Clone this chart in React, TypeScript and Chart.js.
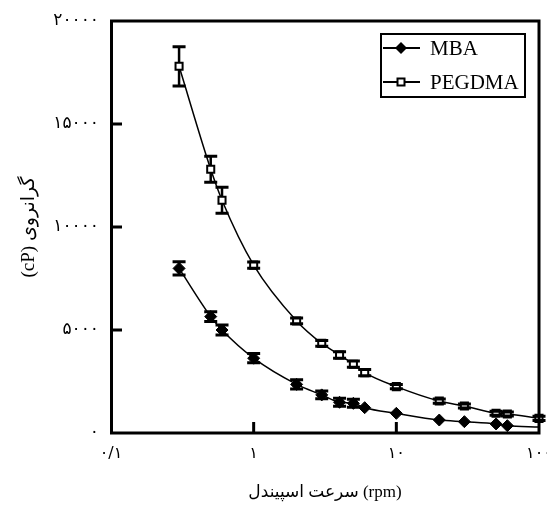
import React, { useEffect, useRef } from 'react';
import { Chart, registerables } from 'chart.js';

Chart.register(...registerables);

// ---- data ----
const pegSpeeds = [0.3, 0.5, 0.6, 1, 2, 3, 4, 5, 6, 10, 20, 30, 50, 60, 100];
const pegViscosity = [17800, 12800, 11300, 8150, 5440, 4350, 3790, 3340, 2930, 2250, 1550, 1310, 960, 920, 710];
const pegError = [950, 630, 630, 150, 140, 140, 160, 150, 150, 100, 100, 100, 100, 100, 100];

const mbaSpeeds = [0.3, 0.5, 0.6, 1, 2, 3, 4, 5, 6, 10, 20, 30, 50, 60];
const mbaViscosity = [7990, 5650, 5000, 3630, 2360, 1850, 1490, 1440, 1230, 955, 630, 550, 440, 355];
const mbaError = [320, 240, 240, 225, 225, 185, 195, 195, 0, 0, 0, 0, 0, 0];
// fitted MBA curve continues to the right edge without a marker
const mbaCurveTailSpeeds = [100];
const mbaCurveTailViscosity = [290];

const seriesNames = ['MBA', 'PEGDMA'];
const xTickValues = [0.1, 1, 10, 100];
const xTickLabels = ['۰/۱', '۱', '۱۰', '۱۰۰'];
const yTickLabels = ['۰', '۵۰۰۰', '۱۰۰۰۰', '۱۵۰۰۰', '۲۰۰۰۰'];
const xTitle = 'سرعت اسپیندل (rpm)';
const yTitle = '\u202Bگرانروی (cP)\u202C';

const serif = "'Liberation Serif', 'DejaVu Sans', serif";
const persian = "'DejaVu Sans', sans-serif";

const toPoints = (xs: number[], ys: number[]) => xs.map((x, i) => ({ x, y: ys[i] }));

const errorSets = [
  { s: mbaSpeeds, v: mbaViscosity, e: mbaError },
  { s: pegSpeeds, v: pegViscosity, e: pegError },
];

function drawErrors(chart: any, part: 'bar' | 'cap') {
  const { ctx } = chart;
  const xs = chart.scales.x;
  const ys = chart.scales.y;
  ctx.save();
  ctx.strokeStyle = '#000';
  errorSets.forEach(({ s, v, e }) => {
    s.forEach((sp, i) => {
      if (!e[i]) return;
      const px = xs.getPixelForValue(sp);
      const top = ys.getPixelForValue(v[i] + e[i]);
      const bot = ys.getPixelForValue(v[i] - e[i]);
      ctx.beginPath();
      if (part === 'bar') {
        ctx.lineWidth = 2.5;
        ctx.moveTo(px, top);
        ctx.lineTo(px, bot);
      } else {
        ctx.lineWidth = 3;
        ctx.moveTo(px - 6.5, top);
        ctx.lineTo(px + 6.5, top);
        ctx.moveTo(px - 6.5, bot);
        ctx.lineTo(px + 6.5, bot);
      }
      ctx.stroke();
    });
  });
  ctx.restore();
}

const extrasPlugin = {
  id: 'extras',
  beforeDatasetsDraw(chart: any) {
    drawErrors(chart, 'bar');
  },
  afterDatasetsDraw(chart: any) {
    drawErrors(chart, 'cap');
  },
  afterDraw(chart: any) {
    const { ctx, chartArea: a } = chart;
    const xs = chart.scales.x;
    const ys = chart.scales.y;
    ctx.save();
    ctx.strokeStyle = '#000';
    ctx.lineWidth = 3;
    ctx.strokeRect(a.left + 0.5, a.top, a.right - a.left - 0.5, a.bottom - a.top);
    // inner ticks
    ctx.beginPath();
    ys.ticks.forEach((t: any) => {
      if (t.value <= ys.min || t.value >= ys.max) return;
      const py = ys.getPixelForValue(t.value);
      ctx.moveTo(a.left, py);
      ctx.lineTo(a.left + 11, py);
    });
    xs.ticks.forEach((t: any) => {
      if (t.value <= xs.min || t.value >= xs.max) return;
      const px = xs.getPixelForValue(t.value);
      ctx.moveTo(px, a.bottom);
      ctx.lineTo(px, a.bottom - 11);
    });
    ctx.stroke();

    // legend box
    const bx = 381, by = 34, bw = 144, bh = 63;
    ctx.fillStyle = '#fff';
    ctx.fillRect(bx, by, bw, bh);
    ctx.lineWidth = 2;
    ctx.strokeRect(bx, by, bw, bh);
    const rows = [48, 82];
    rows.forEach((ry, i) => {
      ctx.lineWidth = 2;
      ctx.beginPath();
      ctx.moveTo(383, ry);
      ctx.lineTo(420, ry);
      ctx.stroke();
      if (i === 0) {
        ctx.fillStyle = '#000';
        ctx.beginPath();
        ctx.moveTo(395, ry);
        ctx.lineTo(401, ry - 6);
        ctx.lineTo(407, ry);
        ctx.lineTo(401, ry + 6);
        ctx.closePath();
        ctx.fill();
      } else {
        ctx.fillStyle = '#fff';
        ctx.fillRect(397.5, ry - 3.5, 7, 7);
        ctx.lineWidth = 2;
        ctx.strokeRect(397.5, ry - 3.5, 7, 7);
      }
      ctx.fillStyle = '#000';
      ctx.font = `21px ${serif}`;
      ctx.textBaseline = 'middle';
      ctx.textAlign = 'left';
      ctx.fillText(seriesNames[i], 430, ry + 1);
    });
    ctx.restore();
  },
};

export default function App() {
  const ref = useRef<HTMLCanvasElement>(null);
  useEffect(() => {
    if (!ref.current) return;
    const chart = new Chart(ref.current, {
      type: 'line',
      data: {
        datasets: [
          {
            label: seriesNames[0],
            data: toPoints(mbaSpeeds, mbaViscosity),
            showLine: false,
            pointStyle: 'rectRot',
            pointRadius: 6,
            backgroundColor: '#000',
            borderColor: '#000',
            borderWidth: 1,
            order: 0,
            clip: false,
          } as any,
          {
            label: seriesNames[1],
            data: toPoints(pegSpeeds, pegViscosity),
            showLine: false,
            pointStyle: 'rect',
            pointRadius: 5,
            backgroundColor: '#fff',
            borderColor: '#000',
            borderWidth: 2,
            order: 0,
            clip: false,
          } as any,
          {
            label: 'MBA fit',
            data: toPoints(mbaSpeeds.concat(mbaCurveTailSpeeds), mbaViscosity.concat(mbaCurveTailViscosity)),
            pointRadius: 0,
            borderColor: '#000',
            borderWidth: 1.5,
            cubicInterpolationMode: 'monotone',
            fill: false,
            order: 1,
          } as any,
          {
            label: 'PEGDMA fit',
            data: toPoints(pegSpeeds, pegViscosity),
            pointRadius: 0,
            borderColor: '#000',
            borderWidth: 1.5,
            cubicInterpolationMode: 'monotone',
            fill: false,
            order: 1,
          } as any,
        ],
      },
      options: {
        responsive: false,
        animation: false,
        layout: { padding: { top: 21, right: 8, left: 0, bottom: 0 } },
        plugins: { legend: { display: false }, tooltip: { enabled: false } },
        scales: {
          x: {
            type: 'logarithmic',
            min: 0.1,
            max: 100,
            grid: { display: false, drawTicks: false },
            border: { display: false },
            afterBuildTicks: (s: any) => {
              s.ticks = xTickValues.map((value) => ({ value }));
            },
            afterFit: (s: any) => {
              s.height = 75;
              s.paddingLeft = 0;
              s.paddingRight = 0;
            },
            ticks: {
              autoSkip: false,
              maxRotation: 0,
              padding: 11,
              color: '#000',
              font: { family: persian, size: 16 },
              callback: (_v: any, i: number) => xTickLabels[i],
            },
            title: {
              display: true,
              text: xTitle,
              color: '#000',
              font: { family: serif, size: 17 },
              padding: { top: 0, bottom: 5 },
            },
          } as any,
          y: {
            type: 'linear',
            min: 0,
            max: 20000,
            grid: { display: false, drawTicks: false },
            border: { display: false },
            afterFit: (s: any) => {
              s.width = 111;
              s.paddingTop = 0;
              s.paddingBottom = 0;
            },
            ticks: {
              stepSize: 5000,
              padding: 12,
              color: '#000',
              font: { family: persian, size: 17 },
              callback: (_v: any, i: number) => yTickLabels[i],
            },
            title: {
              display: true,
              text: yTitle,
              color: '#000',
              font: { family: serif, size: 19 },
              padding: { top: 18, bottom: 0 },
            },
          } as any,
        },
      },
      plugins: [extrasPlugin],
    });
    return () => chart.destroy();
  }, []);
  return (
    <div style={{ position: 'absolute', left: 0, top: 0, width: 547, height: 508, background: '#fff' }}>
      <canvas ref={ref} width={547} height={508} style={{ display: 'block' }} />
    </div>
  );
}
